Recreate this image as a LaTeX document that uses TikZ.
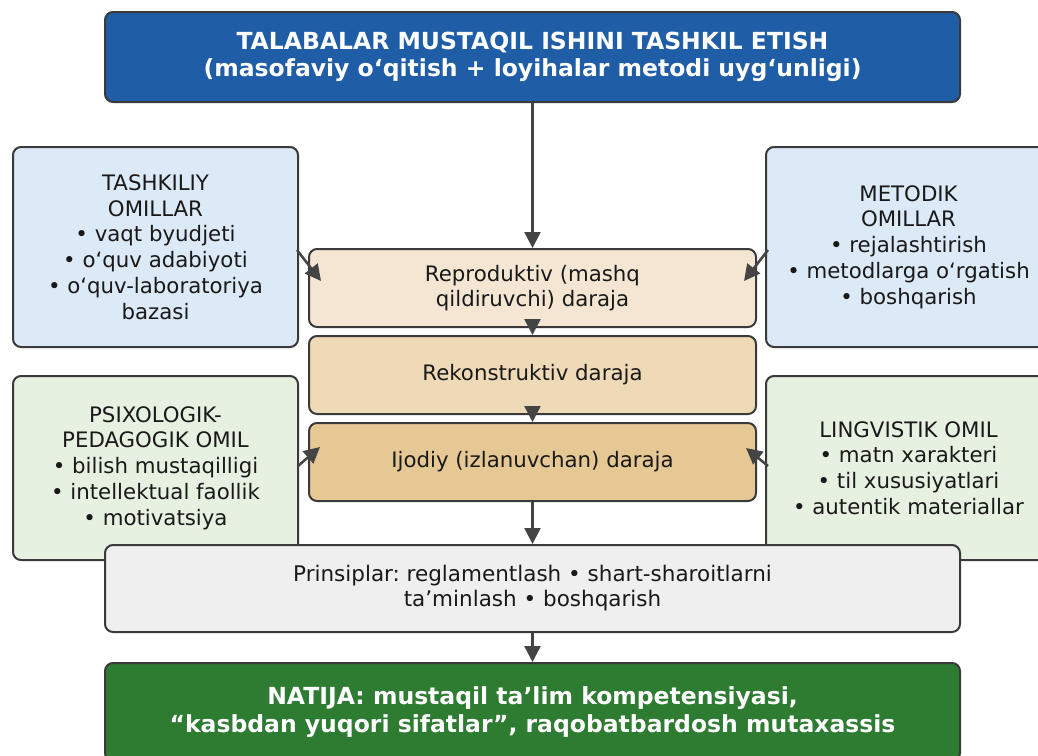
\documentclass[tikz,border=0pt]{standalone}
\usepackage{fontspec}
\setmainfont{DejaVu Sans}
\frenchspacing
\usetikzlibrary{arrows.meta,calc}
\definecolor{titleblue}{HTML}{1F5DA6}
\definecolor{lblue}{HTML}{DCE9F6}
\definecolor{lgreen}{HTML}{E6F1E1}
\definecolor{lev1}{HTML}{F4E6D3}
\definecolor{lev2}{HTML}{EFDAB8}
\definecolor{lev3}{HTML}{E6C894}
\definecolor{prgray}{HTML}{EFEFEF}
\definecolor{natgreen}{HTML}{2E7B32}
\definecolor{edge}{HTML}{3A3A3A}
\definecolor{arrowc}{HTML}{444444}
\begin{document}
\begin{tikzpicture}[x=1pt,y=-1pt,
  box/.style={draw=edge, line width=2pt, rounded corners=8pt, align=center, text=black!90, inner sep=0pt},
  factor/.style={box, font=\fontsize{21.3}{25.7}\selectfont},
  level/.style={box, minimum width=447pt, minimum height=78pt, font=\fontsize{21.3}{25.7}\selectfont},
  wide/.style={box, minimum width=855pt},
  arr/.style={draw=arrowc, line width=2.5pt, -{Triangle[length=16pt,width=16pt]}}
]
\useasboundingbox (0,0) rectangle (1038,755);
\clip (0,0) rectangle (1038,755);
\fill[white] (0,0) rectangle (1038,755);

\node[wide, fill=titleblue, minimum height=90pt, text=white,
      font=\fontsize{23.5}{27}\selectfont\bfseries] (title) at (532.5,57)
  {TALABALAR MUSTAQIL ISHINI TASHKIL ETISH\\(masofaviy o‘qitish + loyihalar metodi uyg‘unligi)};

\node[factor, fill=lblue, minimum width=285pt, minimum height=200pt] (tash) at (155.5,247)
  {TASHKILIY\\OMILLAR\\• vaqt byudjeti\\• o‘quv adabiyoti\\• o‘quv-laboratoriya\\bazasi};
\node[factor, fill=lblue, minimum width=285pt, minimum height=200pt] (meto) at (908.5,247)
  {METODIK\\OMILLAR\\• rejalashtirish\\• metodlarga o‘rgatish\\• boshqarish};

\node[level, fill=lev1] (rep) at (532.5,288) {Reproduktiv (mashq\\qildiruvchi) daraja};
\node[level, fill=lev2] (rek) at (532.5,375) {Rekonstruktiv daraja};
\node[level, fill=lev3] (ijo) at (532.5,462) {Ijodiy (izlanuvchan) daraja};

\node[factor, fill=lgreen, minimum width=285pt, minimum height=184pt] (psi) at (155.5,468)
  {PSIXOLOGIK-\\PEDAGOGIK OMIL\\• bilish mustaqilligi\\• intellektual faollik\\• motivatsiya};
\node[factor, fill=lgreen, minimum width=285pt, minimum height=184pt] (lin) at (908.5,468)
  {LINGVISTIK OMIL\\• matn xarakteri\\• til xususiyatlari\\• autentik materiallar};

\node[wide, fill=prgray, minimum height=87pt, font=\fontsize{21.5}{25}\selectfont] (pri) at (532.5,588.5)
  {Prinsiplar: reglamentlash • shart-sharoitlarni\\ta’minlash • boshqarish};

\node[wide, fill=natgreen, minimum height=98pt, text=white,
      font=\fontsize{23.5}{28}\selectfont\bfseries] (nat) at (532.5,712)
  {NATIJA: mustaqil ta’lim kompetensiyasi,\\“kasbdan yuqori sifatlar”, raqobatbardosh mutaxassis};

\draw[arr] (title.south) -- (rep.north);
\draw[arr] (rep.south) -- (rek.north);
\draw[arr] (rek.south) -- (ijo.north);
\draw[arr] (ijo.south) -- (pri.north);
\draw[arr] (pri.south) -- (nat.north);

\draw[arr] ($(tash.east)+(-2,3)$) -- ($(rep.west)+(13,-7)$);
\draw[arr] ($(meto.west)+(3,3)$) -- ($(rep.east)+(-13,-7)$);
\draw[arr] ($(psi.east)+(-1,-2)$) -- ($(ijo.west)+(12,-15)$);
\draw[arr] ($(lin.west)+(3,-2)$) -- ($(ijo.east)+(-11,-14)$);
\end{tikzpicture}
\end{document}
